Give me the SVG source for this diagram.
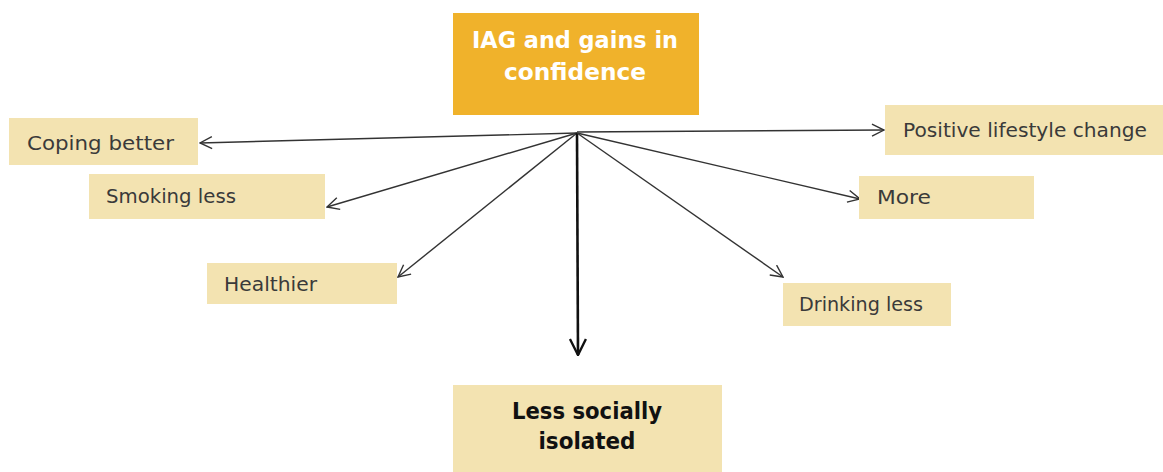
<svg xmlns="http://www.w3.org/2000/svg" width="1163" height="472" viewBox="0 0 1163 472">
<style>
.box{fill:#F3E3B1}
.lbl{font-family:"DejaVu Sans","Noto Sans",sans-serif;font-size:19px;fill:#3a3a3a}
.big{font-family:"DejaVu Sans","Noto Sans",sans-serif;font-size:23px;font-weight:bold;text-anchor:middle}
.con{stroke:#333;stroke-width:1.4;fill:none;marker-end:url(#ah)}
</style>
<defs>
<marker id="ah" viewBox="0 0 14 14" refX="13" refY="7" markerWidth="14" markerHeight="14" markerUnits="userSpaceOnUse" orient="auto">
<path d="M1,1 L13,7 L1,13" fill="none" stroke="#333" stroke-width="1.4"/>
</marker>
<marker id="ah2" viewBox="0 0 18 18" refX="17" refY="9" markerWidth="18" markerHeight="18" markerUnits="userSpaceOnUse" orient="auto">
<path d="M1,1 L17,9 L1,17" fill="none" stroke="#111" stroke-width="2.4"/>
</marker>
</defs>
<rect width="1163" height="472" fill="#fff"/>
<g id="connectors">
<line class="con" x1="577" y1="133" x2="200" y2="143"/>
<line class="con" x1="577" y1="133" x2="327" y2="207"/>
<line class="con" x1="577" y1="133" x2="398" y2="277"/>
<line x1="577" y1="133" x2="578" y2="355" stroke="#111" stroke-width="2.6" marker-end="url(#ah2)"/>
<line class="con" x1="577" y1="133" x2="783" y2="277"/>
<line class="con" x1="577" y1="133" x2="860" y2="199"/>
<line class="con" x1="577" y1="132" x2="884" y2="130"/>
</g>
<g id="n-iag">
<rect x="453" y="13" width="246" height="102" fill="#F0B22B"/>
<text class="big" x="575" y="48" fill="#fff" textLength="206" lengthAdjust="spacingAndGlyphs">IAG and gains in</text>
<text class="big" x="575" y="80" fill="#fff" textLength="142" lengthAdjust="spacingAndGlyphs">confidence</text>
</g>
<g id="n-coping">
<rect class="box" x="9" y="118" width="189" height="47"/>
<text class="lbl" x="27" y="150" textLength="147" lengthAdjust="spacingAndGlyphs">Coping better</text>
</g>
<g id="n-smoking">
<rect class="box" x="89" y="174" width="236" height="45"/>
<text class="lbl" x="106" y="203" textLength="130" lengthAdjust="spacingAndGlyphs">Smoking less</text>
</g>
<g id="n-healthier">
<rect class="box" x="207" y="263" width="190" height="41"/>
<text class="lbl" x="224" y="291" textLength="93" lengthAdjust="spacingAndGlyphs">Healthier</text>
</g>
<g id="n-isolated">
<rect class="box" x="453" y="385" width="269" height="87"/>
<text class="big" x="587" y="419" fill="#111" textLength="150" lengthAdjust="spacingAndGlyphs">Less socially</text>
<text class="big" x="587" y="449" fill="#111" textLength="97" lengthAdjust="spacingAndGlyphs">isolated</text>
</g>
<g id="n-positive">
<rect class="box" x="885" y="105" width="278" height="50"/>
<text class="lbl" x="903" y="137" textLength="244" lengthAdjust="spacingAndGlyphs">Positive lifestyle change</text>
</g>
<g id="n-more">
<rect class="box" x="859" y="176" width="175" height="43"/>
<text class="lbl" x="877" y="204" textLength="54" lengthAdjust="spacingAndGlyphs">More</text>
</g>
<g id="n-drinking">
<rect class="box" x="783" y="283" width="168" height="43"/>
<text class="lbl" x="799" y="311" textLength="124" lengthAdjust="spacingAndGlyphs">Drinking less</text>
</g>
</svg>
